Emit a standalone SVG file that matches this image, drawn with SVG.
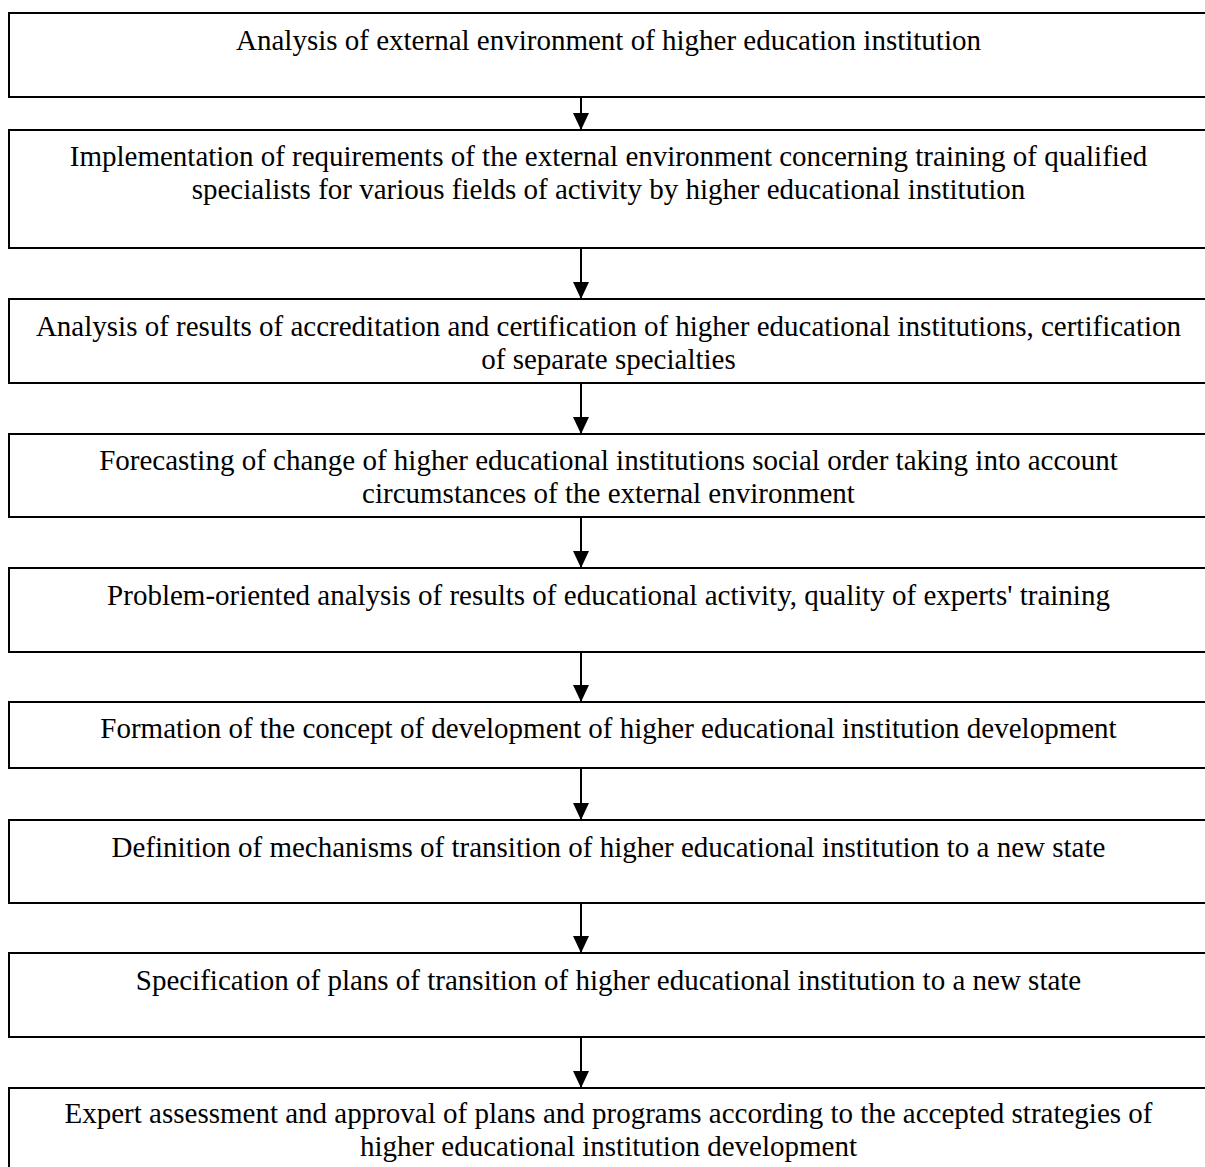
<svg xmlns="http://www.w3.org/2000/svg" width="1205" height="1167" viewBox="0 0 1205 1167">
<style>
.box{fill:#fff;stroke:#000;stroke-width:2}
.t{font-family:"Liberation Serif","Times New Roman",serif;font-size:29px;fill:#000;text-anchor:middle}
.c{stroke:#000;stroke-width:2;fill:none}
</style>
<defs>
<marker id="ah" markerUnits="userSpaceOnUse" markerWidth="17" markerHeight="16" refX="17" refY="8" orient="auto">
<path d="M0,0 L17,8 L0,16 z" fill="#000"/>
</marker>
</defs>
<rect width="1205" height="1167" fill="#fff"/>
<g id="n1"><rect class="box" x="9" y="13" width="1200" height="84"/><text class="t" x="608.5" y="50">Analysis of external environment of higher education institution</text></g>
<g id="n2"><rect class="box" x="9" y="130" width="1200" height="118"/><text class="t" x="608.5" y="166">Implementation of requirements of the external environment concerning training of qualified</text><text class="t" x="608.5" y="199">specialists for various fields of activity by higher educational institution</text></g>
<g id="n3"><rect class="box" x="9" y="299" width="1200" height="84"/><text class="t" x="608.5" y="336">Analysis of results of accreditation and certification of higher educational institutions, certification</text><text class="t" x="608.5" y="369">of separate specialties</text></g>
<g id="n4"><rect class="box" x="9" y="434" width="1200" height="83"/><text class="t" x="608.5" y="470">Forecasting of change of higher educational institutions social order taking into account</text><text class="t" x="608.5" y="503">circumstances of the external environment</text></g>
<g id="n5"><rect class="box" x="9" y="568" width="1200" height="84"/><text class="t" x="608.5" y="605">Problem-oriented analysis of results of educational activity, quality of experts' training</text></g>
<g id="n6"><rect class="box" x="9" y="702" width="1200" height="66"/><text class="t" x="608.5" y="738">Formation of the concept of development of higher educational institution development</text></g>
<g id="n7"><rect class="box" x="9" y="820" width="1200" height="83"/><text class="t" x="608.5" y="857">Definition of mechanisms of transition of higher educational institution to a new state</text></g>
<g id="n8"><rect class="box" x="9" y="953" width="1200" height="84"/><text class="t" x="608.5" y="990">Specification of plans of transition of higher educational institution to a new state</text></g>
<g id="n9"><rect class="box" x="9" y="1088" width="1200" height="100"/><text class="t" x="608.5" y="1123">Expert assessment and approval of plans and programs according to the accepted strategies of</text><text class="t" x="608.5" y="1156">higher educational institution development</text></g>
<g id="connectors">
<line class="c" x1="581" y1="97" x2="581" y2="130" marker-end="url(#ah)"/>
<line class="c" x1="581" y1="248" x2="581" y2="299" marker-end="url(#ah)"/>
<line class="c" x1="581" y1="383" x2="581" y2="434" marker-end="url(#ah)"/>
<line class="c" x1="581" y1="517" x2="581" y2="568" marker-end="url(#ah)"/>
<line class="c" x1="581" y1="652" x2="581" y2="702" marker-end="url(#ah)"/>
<line class="c" x1="581" y1="768" x2="581" y2="820" marker-end="url(#ah)"/>
<line class="c" x1="581" y1="903" x2="581" y2="953" marker-end="url(#ah)"/>
<line class="c" x1="581" y1="1037" x2="581" y2="1088" marker-end="url(#ah)"/>
</g>
</svg>
